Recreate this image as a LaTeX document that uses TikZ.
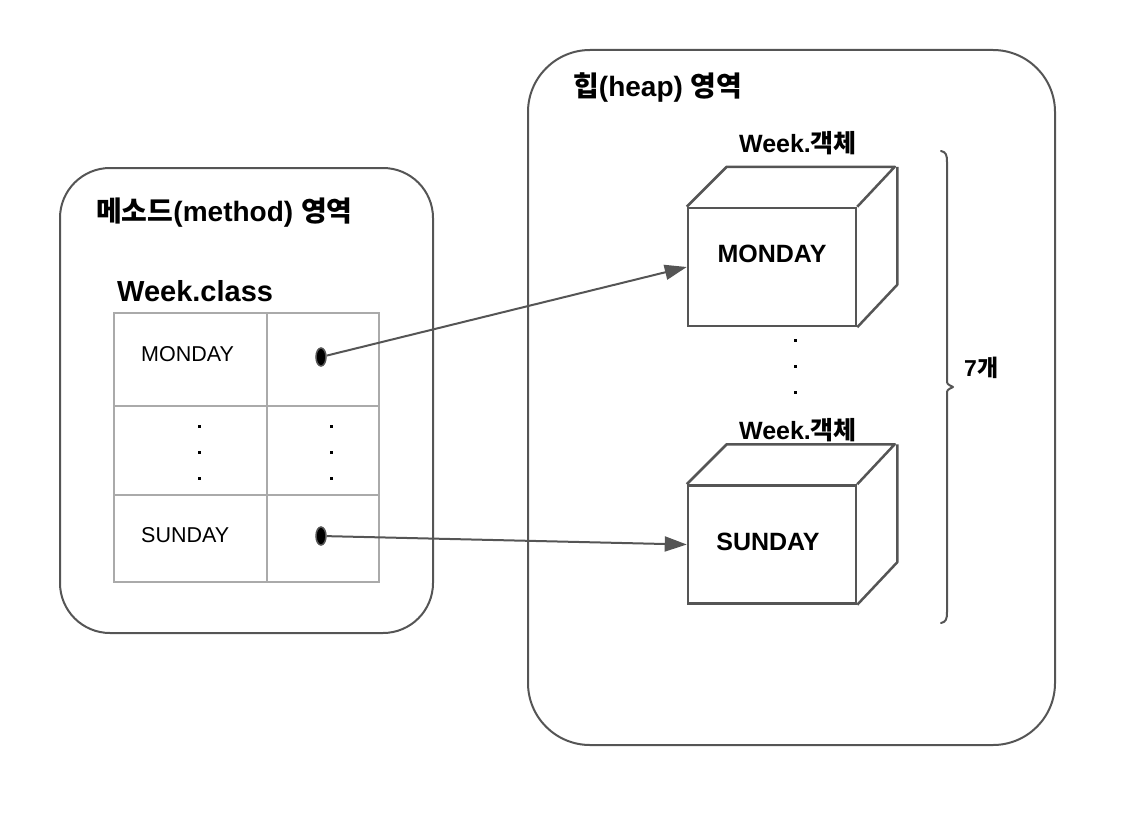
\documentclass[tikz,border=0pt]{standalone}
\usepackage{fontspec}
\setmainfont{Liberation Sans}
\newfontfamily\kr{Noto Sans CJK KR}
\usetikzlibrary{arrows.meta,shapes.geometric}
\definecolor{edge}{HTML}{555555}
\definecolor{grid}{HTML}{AAAAAA}
\begin{document}
\begin{tikzpicture}[x=1pt,y=-1pt,
  area/.style={draw=edge,line width=2pt},
  title/.style={anchor=west,font=\bfseries\fontsize{28}{32}\selectfont,inner sep=0pt},
  cell/.style={anchor=west,font=\fontsize{21.5}{25}\selectfont,inner sep=0pt},
  face/.style={draw=edge,line width=2.5pt,minimum width=168pt,minimum height=118pt,inner sep=0pt},
  facetext/.style={font=\bfseries\fontsize{25}{29}\selectfont,inner sep=0pt},
  cubeedge/.style={draw=edge,line width=2.5pt,line join=round},
  objlabel/.style={font=\bfseries\fontsize{25}{29}\selectfont,inner sep=0pt},
  ptr/.style={ellipse,draw=edge,fill=black,line width=1.5pt,minimum width=10pt,minimum height=18pt,inner sep=0pt},
  link/.style={draw=edge,line width=2pt,-{Triangle[length=22pt,width=15pt]}},
  dotm/.style={fill=black,minimum size=3pt,inner sep=0pt},
]
\useasboundingbox (0,0) rectangle (1132,824);
% areas
\draw[area,rounded corners=50pt] (60,168) rectangle (433,633);
\draw[area,rounded corners=62pt] (528,50) rectangle (1055,745);
\node[title] (mt) at (96,213) {{\kr 메소드}(method) {\kr 영역}};
\node[title] (ht) at (573,88) {{\kr 힙}(heap) {\kr 영역}};
% table
\node[anchor=west,inner sep=0pt,font=\bfseries\fontsize{29}{32}\selectfont] (wc) at (117,291) {Week.class};
\draw[grid,line width=2pt] (114,313) rectangle (379,582);
\draw[grid,line width=2pt] (267,313) -- (267,582);
\draw[grid,line width=2pt] (114,406) -- (379,406);
\draw[grid,line width=2pt] (114,495) -- (379,495);
\node[cell] (tm) at (141,354) {MONDAY};
\node[cell] (ts) at (141,535) {SUNDAY};
\foreach \yy in {426,452,478} {
  \node[dotm] at (199,\yy) {};
  \node[dotm] at (331,\yy) {};
}
\node[ptr] (p1) at (321,357) {};
\node[ptr] (p2) at (321,536) {};
% cubes
\node[face] (c1) at (772,267) {};
\node[face] (c2) at (772,544.5) {};
\foreach \c in {c1,c2} {
  \draw[cubeedge] (\c.north west) -- ++(40,-40) -- ++(168,0) -- (\c.north east);
  \draw[cubeedge] (\c.north east) ++(40,-40) -- ++(0,118) -- (\c.south east);
}
\node[facetext] (t1) at (772,254) {MONDAY};
\node[facetext] (t2) at (768,542) {SUNDAY};
\node[objlabel] (l1) at (798,143) {Week.{\kr 객체}};
\node[objlabel] (l2) at (798,430) {Week.{\kr 객체}};
\foreach \yy in {340,366,392} \node[dotm] at (795,\yy) {};
% arrows
\draw[link] (p1) -- (c1.west);
\draw[link] (p2) -- (c2.west);
% brace
\draw[edge,line width=2pt,line join=round,line cap=round]
  (941,151) .. controls (946,152) and (947,155) .. (947,162)
  -- (947,380) .. controls (947,384) .. (953,387)
  .. controls (947,390) .. (947,394)
  -- (947,612) .. controls (947,619) and (946,622) .. (941,623);
\node[anchor=west,inner sep=0pt,font=\bfseries\fontsize{23}{26}\selectfont] (seven) at (964,368) {7{\kr 개}};
\end{tikzpicture}
\end{document}
